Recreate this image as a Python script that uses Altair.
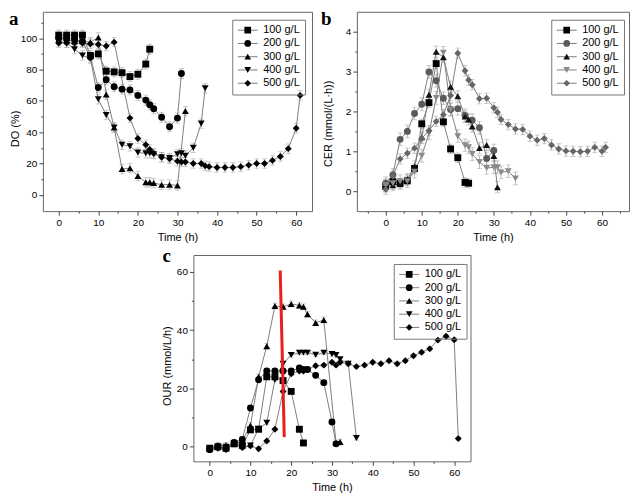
import altair as alt
import pandas as pd

FONT = "Liberation Sans"
SERIES = ["100 g/L", "200 g/L", "300 g/L", "400 g/L", "500 g/L"]
SHAPES = ["square", "circle", "triangle-up", "triangle-down", "diamond"]

# ---------------- panel a : DO (%) ----------------
A_T100 = [0, 2, 4, 6, 8, 10, 12, 14, 16, 18, 20, 22, 23]
A_V100 = [102, 102, 102, 102, 89, 90, 79, 78.5, 78, 75.5, 77, 83.5, 93]
A_T200 = [0, 2, 4, 6, 8, 10, 12, 14, 16, 18, 20, 22, 23, 24, 26, 28, 30, 31]
A_V200 = [100, 100, 99, 98, 88, 68.5, 73.5, 69, 67.5, 67, 63.5, 60.5, 57.5, 55, 49.5, 43.5, 49, 77.5]
A_T300 = [0, 2, 4, 6, 8, 10, 12, 14, 16, 18, 20, 22, 23, 24, 26, 28, 30, 32]
A_V300 = [99, 99, 98, 98, 97.5, 100.5, 64, 43, 16.5, 17, 12, 8, 8, 7.5, 6.5, 6.5, 6, 53.5]
A_T400 = [0, 2, 4, 6, 8, 10, 12, 14, 16, 18, 20, 22, 23, 24, 26, 28, 30, 31, 32, 34, 36, 37]
A_V400 = [98, 97, 93, 89, 87, 61, 51, 43, 32, 31, 27, 26.5, 26.5, 26, 24, 23.5, 26, 26.5, 25, 30, 45.5, 68]
A_T500 = [0, 2, 4, 6, 8, 10, 12, 14, 18, 20, 22, 23, 24, 26, 28, 30, 31, 32, 34, 36, 37, 38,
          40, 42, 44, 46, 48, 50, 52, 54, 56, 58, 60, 61]
A_V500 = [97, 97, 97, 97, 96.5, 96, 95, 97.5, 49, 36, 32, 29, 26.5, 24, 23, 21.5, 21, 21, 20, 20, 18.5, 18,
          17.5, 17.5, 17.5, 18, 19, 20, 20, 22, 24.5, 29.5, 42.5, 63.5]
A_ERR = [3.2, 3.2, 3.0, 3.0, 3.0]

# ---------------- panel b : CER ----------------
B_T100 = [0, 2, 4, 6, 8, 10, 12, 14, 16, 18, 20, 22, 23]
B_V100 = [0.12, 0.24, 0.2, 0.26, 0.57, 1.69, 2.22, 3.2, 1.74, 1.06, 0.84, 0.22, 0.2]
B_T200 = [0, 2, 4, 6, 8, 10, 12, 14, 16, 18, 20, 22, 24, 26, 28, 30]
B_V200 = [0.2, 0.41, 1.3, 1.5, 1.95, 2.18, 2.99, 2.77, 2.33, 2.05, 2.07, 1.9, 1.78, 1.59, 0.82, 1.02]
B_T300 = [0, 2, 4, 6, 8, 10, 12, 14, 16, 18, 20, 22, 23, 24, 26, 28, 30, 31]
B_V300 = [0.12, 0.15, 0.18, 0.3, 0.62, 1.35, 2.42, 3.5, 3.36, 2.62, 2.38, 1.87, 1.8, 1.62, 1.08, 1.16, 0.88, 0.1]
B_T400 = [0, 2, 4, 6, 8, 10, 12, 14, 16, 18, 20, 22, 23, 24, 26, 28, 30, 31, 32, 34, 36]
B_V400 = [0.15, 0.2, 0.25, 0.25, 0.49, 0.89, 1.45, 2.34, 3.47, 2.05, 1.38, 1.15, 1.1, 0.93, 0.73, 0.58,
          0.6, 0.6, 0.47, 0.5, 0.32]
B_T500 = [0, 2, 4, 6, 8, 10, 12, 14, 16, 18, 20, 22, 23, 24, 26, 28, 30, 31, 32, 34, 36, 38,
          40, 42, 44, 46, 48, 50, 52, 54, 56, 58, 60, 61]
B_V500 = [0.05, 0.38, 0.81, 0.95, 1.08, 1.32, 1.52, 1.75, 1.92, 2.4, 3.46, 3.02, 2.79, 2.67, 2.32, 2.33,
          2.09, 1.98, 1.8, 1.67, 1.56, 1.55, 1.38, 1.28, 1.32, 1.16, 1.06, 1.01, 1.0, 0.99, 1.0, 1.1, 1.0, 1.1]
B_ERR = [0.12, 0.16, 0.14, 0.16, 0.13]

# ---------------- panel c : OUR ----------------
C_T100 = [0, 2, 4, 6, 8, 10, 12, 14, 16, 18, 20, 22, 23]
C_V100 = [-0.5, 0, -0.5, 1, 0.5, 5.8, 6, 24, 24, 22.7, 19, 6, 1.3]
C_T200 = [0, 2, 4, 6, 8, 10, 12, 14, 16, 18, 20, 22, 23, 24, 26, 28, 30, 31]
C_V200 = [-1, 0, -0.5, 1.5, 2.5, 13.3, 23, 26, 26, 26, 26, 27, 26.5, 26.5, 24.5, 22, 8.5, 1]
C_T300 = [0, 2, 4, 6, 8, 10, 12, 14, 16, 18, 20, 22, 23, 24, 26, 28, 31, 32]
C_V300 = [-0.5, 0.5, 0.5, 1, 2, 7.3, 24, 34.5, 48.3, 48, 49, 48.5, 48, 45.5, 42.5, 43.5, 1.3, 1.6]
C_T400 = [0, 2, 4, 6, 8, 10, 12, 14, 16, 18, 20, 22, 23, 24, 26, 28, 30, 31, 32, 34, 36]
C_V400 = [-1, -0.5, 0, 1, 0, 0.4, 6.2, 8.2, 23, 28.5, 31.5, 32.3, 32.3, 32.3, 31.6, 32.3, 31.8, 31.5, 30, 28.5, 3]
C_T500 = [0, 2, 4, 6, 8, 10, 12, 14, 16, 18, 20, 22, 23, 24, 26, 28, 30, 31, 32, 34, 36, 38,
          40, 42, 44, 46, 48, 50, 52, 54, 56, 58, 60, 61]
C_V500 = [-1, -0.5, -1, 1, -0.3, 0.3, -0.7, 2, 6, 19, 25, 26, 26, 26.5, 27.8, 28, 29, 28, 29, 28.5, 27.5,
          28, 29, 28.5, 29.5, 28.5, 29.5, 31.2, 32.4, 33.6, 36.6, 37.9, 36.7, 2.8]
C_ERR = [0.8, 0.8, 1.0, 0.7, 0.6]

RED_T = [17.3, 18.3]
RED_V = [60.5, 3.3]

LINE_GRAY = "#808080"
ERR_GRAY = "#a8a8a8"
FILL_BLACK = ["#000000"] * 5
FILL_B = ["#000000", "#5a5a5a", "#111111", "#8a8a8a", "#666666"]


def frame(times, values, errs):
    rows = []
    for s, ts, vs, e in zip(SERIES, times, values, errs):
        for t, v in zip(ts, vs):
            rows.append({"series": s, "sl": s, "t": t, "v": v, "lo": v - e, "hi": v + e})
    return pd.DataFrame(rows)


def panel(df, xdom, ydom, yvals, yminor, xminor, ytitle, w, h, fills, legx, legy,
          letter, letx, lety, ytitle_pad, ytitle_y, extra=()):
    xs = alt.Scale(domain=xdom, nice=False, zero=False)
    ys = alt.Scale(domain=ydom, nice=False, zero=False)
    base = alt.Chart(df)
    err = base.mark_errorbar(ticks=True, size=5, thickness=0.8, color=ERR_GRAY).encode(
        x=alt.X("t:Q", scale=xs, axis=None),
        y=alt.Y("lo:Q", scale=ys, axis=None),
        y2="hi:Q",
    )
    stroke_leg = alt.Legend(title=None, orient="none", legendX=legx, legendY=legy,
                            symbolType="stroke", symbolSize=400, symbolStrokeWidth=1,
                            clipHeight=11, rowPadding=1.3, padding=5, labelOffset=5,
                            labelFontSize=11, labelFont=FONT, labelColor="transparent",
                            strokeColor="#777777")
    shape_leg = alt.Legend(title=None, orient="none", legendX=legx + 5, legendY=legy,
                           symbolSize=45, symbolStrokeWidth=0,
                           clipHeight=11, rowPadding=1.3, padding=5, labelOffset=10,
                           labelFontSize=11, labelFont=FONT, labelColor="black")
    line = base.mark_line(strokeWidth=1).encode(
        x=alt.X("t:Q", scale=xs, axis=alt.Axis(orient="bottom", values=[0, 10, 20, 30, 40, 50, 60],
                                                 title="Time (h)")),
        y=alt.Y("v:Q", scale=ys, axis=alt.Axis(orient="left", values=yvals, title=ytitle,
                                                 titlePadding=ytitle_pad, titleY=ytitle_y)),
        color=alt.Color("sl:N", scale=alt.Scale(range=[LINE_GRAY] * 5), legend=stroke_leg),
    )
    pts = base.mark_point(filled=True, size=48, opacity=1).encode(
        x=alt.X("t:Q", scale=xs, axis=None),
        y=alt.Y("v:Q", scale=ys, axis=None),
        shape=alt.Shape("series:N", scale=alt.Scale(domain=SERIES, range=SHAPES), legend=shape_leg),
        fill=alt.Fill("series:N", scale=alt.Scale(domain=SERIES, range=fills), legend=shape_leg),
    )
    minor = base.mark_point(opacity=0).encode(
        x=alt.X("t:Q", scale=xs, axis=alt.Axis(orient="bottom", values=xminor, labels=False,
                                                 tickSize=2, title=None)),
        y=alt.Y("v:Q", scale=ys, axis=alt.Axis(orient="left", values=yminor, labels=False,
                                                 tickSize=2, title=None)),
    )
    lab = alt.Chart(pd.DataFrame({"s": [letter]})).mark_text(
        font="Liberation Serif", fontWeight="bold", fontSize=19, align="left", baseline="top"
    ).encode(text="s:N", x=alt.value(letx), y=alt.value(lety))
    layers = [err, line, pts, minor] + list(extra) + [lab]
    return alt.layer(*layers).resolve_axis(x="independent", y="independent").properties(width=w, height=h)


dfa = frame([A_T100, A_T200, A_T300, A_T400, A_T500], [A_V100, A_V200, A_V300, A_V400, A_V500], A_ERR)
dfb = frame([B_T100, B_T200, B_T300, B_T400, B_T500], [B_V100, B_V200, B_V300, B_V400, B_V500], B_ERR)
dfc = frame([C_T100, C_T200, C_T300, C_T400, C_T500], [C_V100, C_V200, C_V300, C_V400, C_V500], C_ERR)

pa = panel(dfa, [-4, 64], [-10.4, 116.9], [0, 20, 40, 60, 80, 100], [10, 30, 50, 70, 90, 110],
           [5, 15, 25, 35, 45, 55], "DO (%)", 270, 200, FILL_BLACK, 190, 8,
           "a", -34, -2, 0, 117)

pb = panel(dfb, [-8, 67.5], [-0.5, 4.5], [0, 1, 2, 3, 4], [0.5, 1.5, 2.5, 3.5],
           [-5, 5, 15, 25, 35, 45, 55, 65], "CER (mmol/(L\u00b7h))", 273, 200, FILL_B, 195, 8,
           "b", -36, -2, 12, 112)

red_df = pd.DataFrame({"t": RED_T, "v": RED_V})
xs_c = alt.Scale(domain=[-4, 64], nice=False, zero=False)
ys_c = alt.Scale(domain=[-5, 65.8], nice=False, zero=False)
red = alt.Chart(red_df).mark_line(color="#e8201c", strokeWidth=3).encode(
    x=alt.X("t:Q", scale=xs_c, axis=None), y=alt.Y("v:Q", scale=ys_c, axis=None))

pc = panel(dfc, [-4, 64], [-5, 65.8], [0, 20, 40, 60], [10, 30, 50],
           [5, 15, 25, 35, 45, 55], "OUR (mmol/L/h)", 278, 207, FILL_BLACK, 201, 9,
           "c", -31, -8, 4, 111, extra=[red])

spacer = alt.Chart(pd.DataFrame({"t": [0]})).mark_point(opacity=0).encode(
    x=alt.X("t:Q", axis=None), y=alt.Y("t:Q", axis=None)
).properties(width=111, height=10, view=alt.ViewBackground(stroke="transparent"))

IND = dict(shape="independent", fill="independent", color="independent")
row1 = alt.hconcat(pa, pb, spacing=45, bounds="flush").resolve_scale(**IND)
row2 = alt.hconcat(spacer, pc, spacing=40, bounds="flush").resolve_scale(**IND)

chart = alt.vconcat(row1, row2, spacing=3).resolve_scale(**IND).properties(
    padding=0, background="white"
).configure(font=FONT).configure_view(
    stroke="#666666", strokeWidth=1
).configure_axis(
    grid=False, domain=False, labelFontSize=10, titleFontSize=11, titleFontWeight="normal",
    labelColor="black", titleColor="black", tickColor="#444444", tickSize=4, labelPadding=2,
    labelFont=FONT, titleFont=FONT
)

chart.save("out.html", embed_options={"renderer": "svg", "actions": False})
